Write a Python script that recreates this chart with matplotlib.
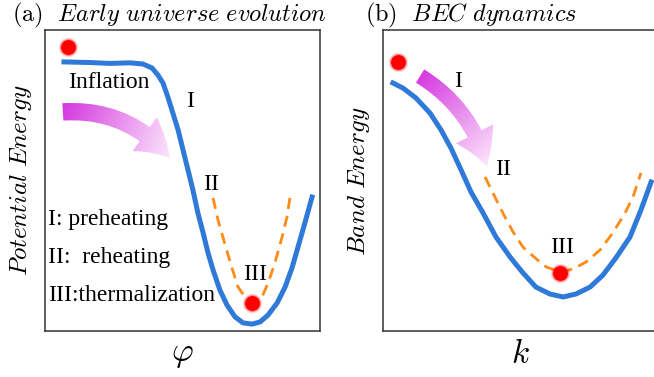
import matplotlib
matplotlib.use('Agg')
import matplotlib.pyplot as plt
from matplotlib.patches import FancyArrowPatch
from matplotlib.colors import LinearSegmentedColormap
import numpy as np

plt.rcParams['mathtext.fontset'] = 'cm'

# panel (a): inflaton potential (arbitrary units)
phi_pot = [0.69, 1.64, 2.36, 3.09, 3.56, 3.89, 4.11, 4.29, 4.47, 4.65, 4.84,
           5.02, 5.20, 5.38, 5.56, 5.75, 5.93, 6.11, 6.36, 6.62, 6.91, 7.20,
           7.53, 7.82, 8.11, 8.44, 8.73, 8.98, 9.20, 9.45, 9.71]
v_pot = [8.94, 8.92, 8.89, 8.91, 8.87, 8.74, 8.50, 8.24, 7.77, 7.24, 6.68,
         6.01, 5.35, 4.68, 3.92, 3.26, 2.59, 2.03, 1.36, 0.86, 0.47, 0.27,
         0.23, 0.30, 0.53, 0.93, 1.46, 2.09, 2.79, 3.59, 4.45]
phi_therm = [6.11, 6.29, 6.55, 6.80, 7.02, 7.27, 7.56, 7.89, 8.11, 8.36, 8.62, 8.80, 8.91]
v_therm = [4.42, 3.69, 2.86, 2.09, 1.46, 1.13, 0.96, 1.13, 1.59, 2.26, 3.12, 3.79, 4.45]
dots_a = [(0.84, 9.44), (7.53, 0.93)]

# panel (b): band dispersion
k_band = [0.36, 0.73, 1.20, 1.71, 2.11, 2.47, 2.84, 3.20, 3.64, 4.11, 4.62,
          5.09, 5.56, 6.07, 6.55, 7.02, 7.53, 8.00, 8.47, 8.98, 9.38, 9.75]
e_band = [8.24, 8.07, 7.74, 7.24, 6.68, 6.08, 5.35, 4.62, 3.92, 3.12, 2.46,
          1.93, 1.46, 1.23, 1.13, 1.23, 1.46, 1.86, 2.43, 3.12, 4.02, 4.95]
k_cond = [3.71, 4.00, 4.36, 4.73, 5.09, 5.53, 5.93, 6.44, 6.91, 7.38, 7.89,
          8.36, 8.80, 9.09, 9.38]
e_cond = [5.12, 4.58, 3.92, 3.29, 2.79, 2.43, 2.13, 1.96, 2.06, 2.29, 2.69,
          3.26, 3.92, 4.45, 5.25]
dots_b = [(0.55, 8.94), (6.44, 1.93)]

BLUE = '#2f79d8'
ORANGE = '#ff8a14'
pink = LinearSegmentedColormap.from_list('pink', ['#d63ce0', '#fce6fc'])
serif = 'Liberation Serif'


def glow_dot(ax, x, y):
    """Pallino rosso sfumato."""
    for s, a in [(200, 0.15), (150, 0.35), (115, 1.0)]:
        ax.scatter([x], [y], s=s, color='#ff0000', alpha=a, lw=0, zorder=6)


def grad_arrow(ax, start, end, rad, hl, hw, tw):
    """Freccia curva con gradiente magenta -> rosa chiaro."""
    arr = FancyArrowPatch(start, end, connectionstyle=f'arc3,rad={rad}',
                          arrowstyle=f'simple,head_length={hl},head_width={hw},tail_width={tw}',
                          mutation_scale=25, shrinkA=0, shrinkB=0,
                          facecolor='none', edgecolor='none', transform=ax.transData)
    ax.add_patch(arr)
    x0, x1 = min(start[0], end[0]) - 1.5, max(start[0], end[0]) + 1.5
    y0, y1 = min(start[1], end[1]) - 1.5, max(start[1], end[1]) + 1.5
    X, Y = np.meshgrid(np.linspace(x0, x1, 200), np.linspace(y0, y1, 200))
    d = np.array(end) - np.array(start)
    t = ((X - start[0]) * d[0] + (Y - start[1]) * d[1]) / (d ** 2).sum()
    im = ax.imshow(np.clip(t, 0, 1), extent=(x0, x1, y0, y1), origin='lower',
                   cmap=pink, aspect='auto', zorder=2)
    im.set_clip_path(arr)


fig = plt.figure(figsize=(6.54, 3.77), dpi=100)
ax1 = fig.add_axes([0.0688, 0.122, 0.4205, 0.7984])
ax2 = fig.add_axes([0.5856, 0.122, 0.4205, 0.7984])

for ax in (ax1, ax2):
    ax.set_xticks([])
    ax.set_yticks([])
    for sp in ax.spines.values():
        sp.set_color('#333333')
        sp.set_linewidth(1.1)

# (a)
ax1.plot(phi_pot, v_pot, color=BLUE, lw=3.6, solid_joinstyle='round', zorder=3)
ax1.plot(phi_therm, v_therm, color=ORANGE, lw=2, dashes=(4, 2.5), zorder=3)
for x, y in dots_a:
    glow_dot(ax1, x, y)
grad_arrow(ax1, (0.65, 7.28), (4.55, 5.75), -0.25, 1.0, 1.2, 0.5)
ax1.text(2.33, 8.07, 'Inflation', fontsize=17, family=serif, ha='center', va='baseline')
ax1.text(5.27, 7.44, 'I', fontsize=17, family=serif, ha='center', va='baseline')
ax1.text(6.04, 4.68, 'II', fontsize=17, family=serif, ha='center', va='baseline')
ax1.text(7.64, 1.69, 'III', fontsize=17, family=serif, ha='center', va='baseline')
ax1.text(0.11, 3.52, 'I: preheating', fontsize=17, family=serif, va='baseline')
ax1.text(0.11, 2.26, 'II:  reheating', fontsize=17, family=serif, va='baseline')
ax1.text(0.11, 1.00, 'III:thermalization', fontsize=17, family=serif, va='baseline')
ax1.set_xlim(0, 10)
ax1.set_ylim(0, 10)
ax1.set_xlabel(r'$\varphi$', fontsize=24, labelpad=4)
ax1.set_ylabel(r'$\mathit{Potential\ Energy}$', fontsize=18, labelpad=8)

# (b)
ax2.plot(k_band, e_band, color=BLUE, lw=3.6, solid_joinstyle='round', zorder=3)
ax2.plot(k_cond, e_cond, color=ORANGE, lw=2, dashes=(4, 2.5), zorder=3)
for x, y in dots_b:
    glow_dot(ax2, x, y)
grad_arrow(ax2, (1.35, 8.47), (3.78, 5.47), -0.2, 1.0, 1.2, 0.45)
ax2.text(2.73, 8.11, 'I', fontsize=17, family=serif, ha='center', va='baseline')
ax2.text(4.36, 5.18, 'II', fontsize=17, family=serif, ha='center', va='baseline')
ax2.text(6.51, 2.59, 'III', fontsize=17, family=serif, ha='center', va='baseline')
ax2.set_xlim(0, 10)
ax2.set_ylim(0, 10)
ax2.set_xlabel(r'$k$', fontsize=24, labelpad=4)
ax2.set_ylabel(r'$\mathit{Band\ Energy}$', fontsize=18, labelpad=8)

fig.text(12 / 654, 1 - 15 / 377, r'$\mathrm{(a)}\ \ \mathit{Early\ universe\ evolution}$',
         fontsize=17.5, va='center')
fig.text(365 / 654, 1 - 15 / 377, r'$\mathrm{(b)}\ \ \mathit{BEC\ dynamics}$',
         fontsize=17.5, va='center')

fig.savefig('out.png', dpi=100)
